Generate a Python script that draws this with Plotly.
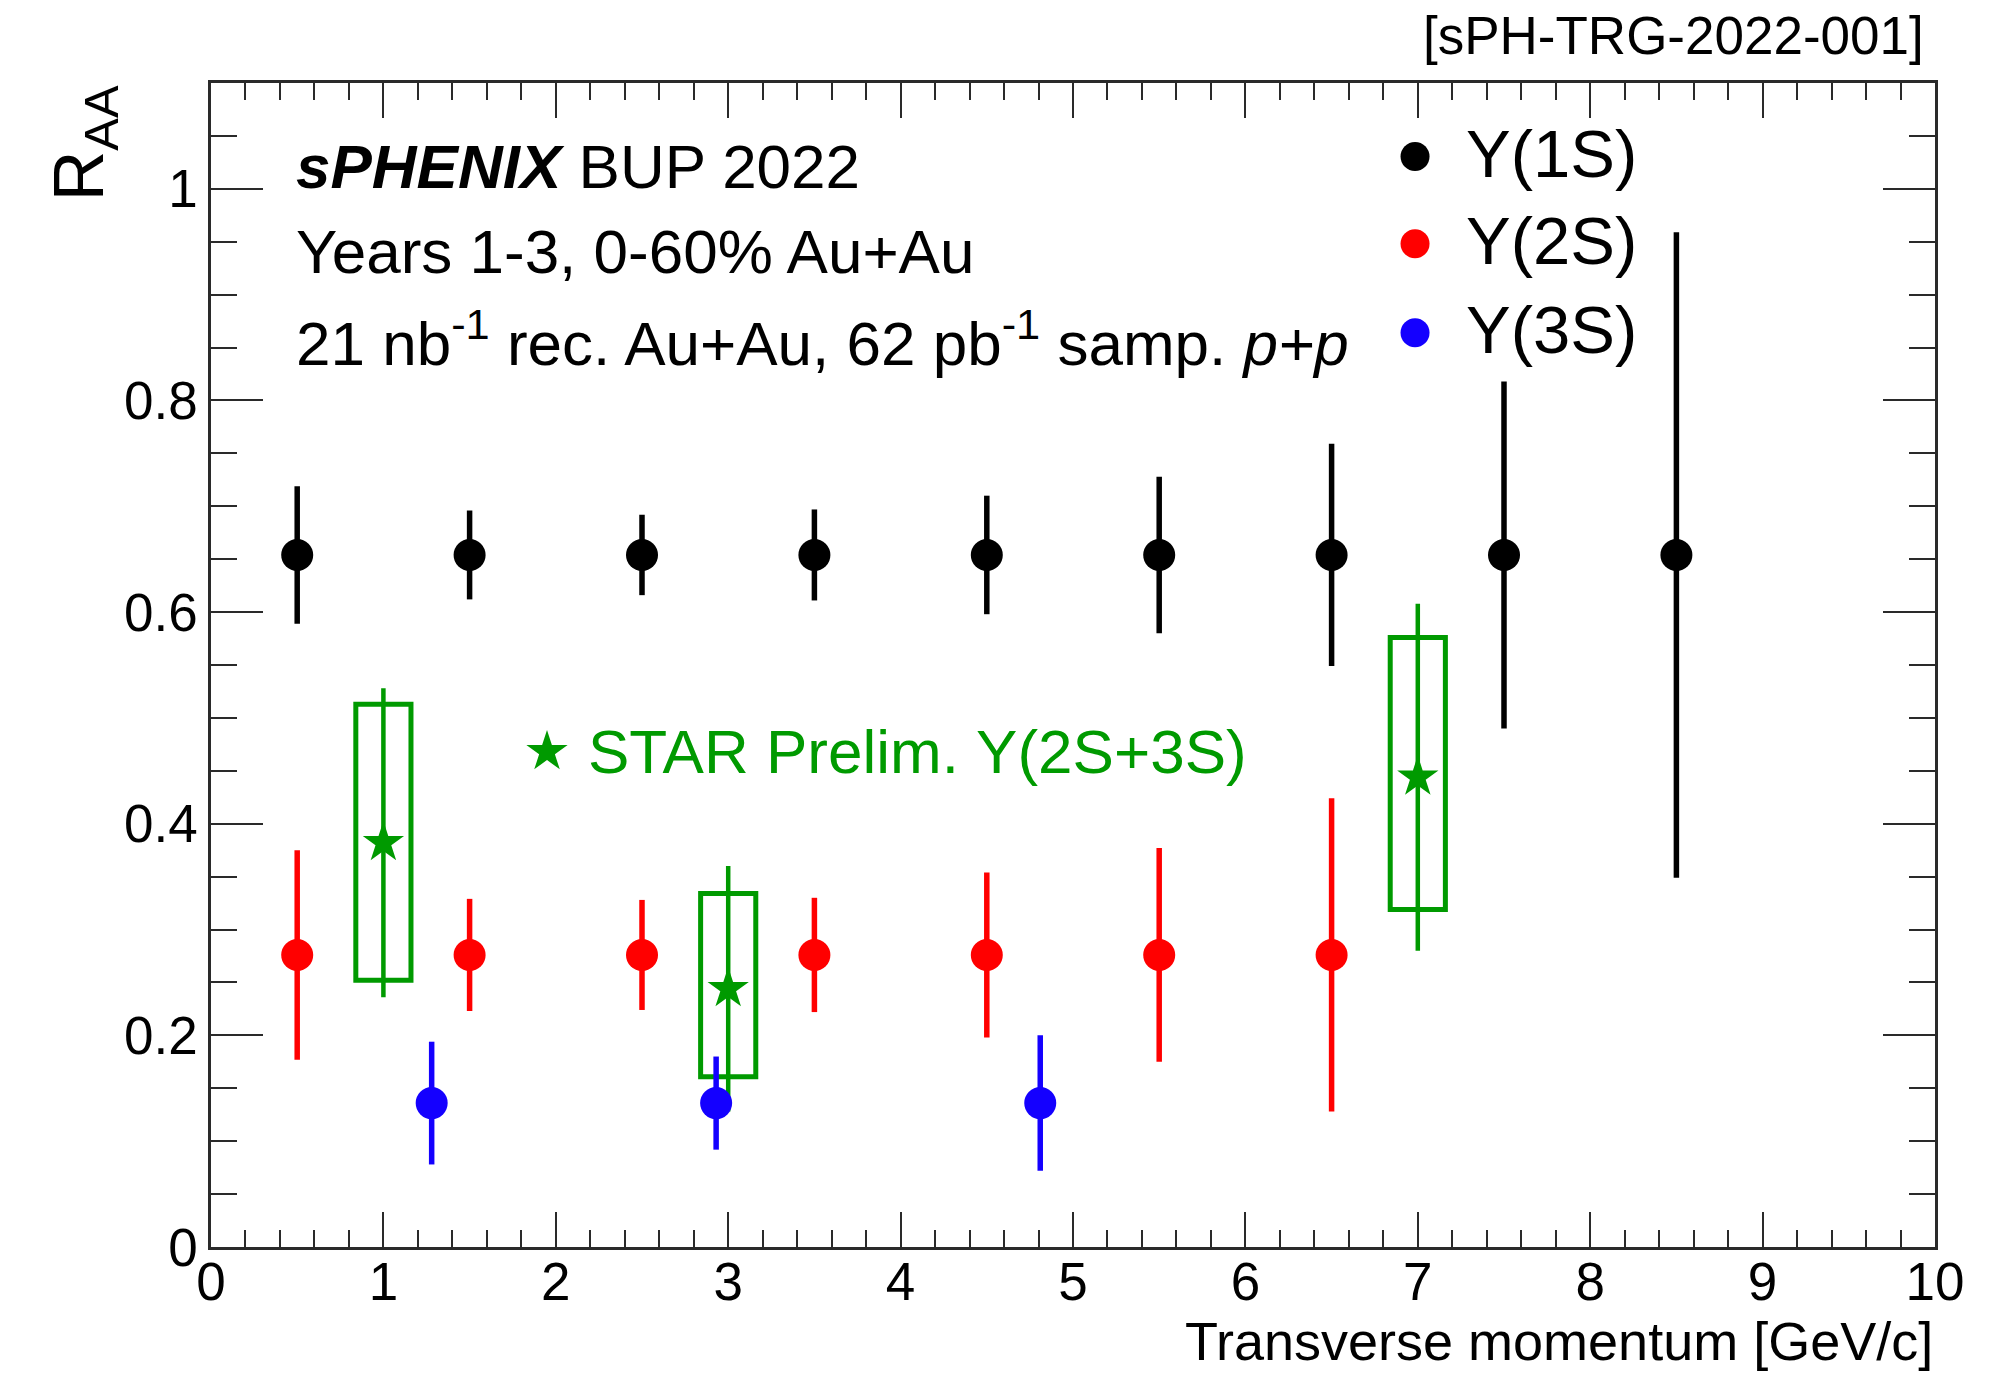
import plotly.graph_objects as go

# ---- sPHENIX projected Upsilon R_AA vs transverse momentum ----
pt_1s = [0.5, 1.5, 2.5, 3.5, 4.5, 5.5, 6.5, 7.5, 8.5]
raa_1s = [0.654, 0.654, 0.654, 0.654, 0.654, 0.654, 0.654, 0.654, 0.654]
err_1s = [0.065, 0.042, 0.038, 0.043, 0.056, 0.074, 0.105, 0.164, 0.305]

pt_2s = [0.5, 1.5, 2.5, 3.5, 4.5, 5.5, 6.5]
raa_2s = [0.276, 0.276, 0.276, 0.276, 0.276, 0.276, 0.276]
err_2s = [0.099, 0.053, 0.052, 0.054, 0.078, 0.101, 0.148]

pt_3s = [1.28, 2.93, 4.81]
raa_3s = [0.136, 0.136, 0.136]
err_3s = [0.058, 0.044, 0.064]

# STAR preliminary Upsilon(2S+3S): stat. error bars + sys. boxes
pt_star = [1.0, 3.0, 7.0]
raa_star = [0.382, 0.244, 0.444]
stat_star = [0.146, 0.116, 0.164]
sys_up_star = [0.131, 0.090, 0.132]
sys_dn_star = [0.130, 0.083, 0.125]
box_halfwidth = 0.16

series_names = ["Υ(1S)", "Υ(2S)", "Υ(3S)"]
series_colors = ["#000000", "#ff0000", "#1400ff"]
star_color = "#009a00"

x_ticks = [0, 1, 2, 3, 4, 5, 6, 7, 8, 9, 10]
y_ticks = [0, 0.2, 0.4, 0.6, 0.8, 1.0]
y_ticktext = ["0", "0.2", "0.4", "0.6", "0.8", "1"]

FONT = "Liberation Sans, Arial, Helvetica, sans-serif"
AXIS_COLOR = "#2a2a2a"

fig = go.Figure()

# systematic boxes for STAR points
for x, y, su, sd in zip(pt_star, raa_star, sys_up_star, sys_dn_star):
    fig.add_shape(type="rect", xref="x", yref="y",
                  x0=x - box_halfwidth, x1=x + box_halfwidth,
                  y0=y - sd, y1=y + su,
                  line=dict(color=star_color, width=5), layer="below")

fig.add_trace(go.Scatter(
    x=pt_star, y=raa_star, mode="markers", showlegend=False,
    marker=dict(symbol="star", size=31, color=star_color, line=dict(width=0)),
    error_y=dict(type="data", array=stat_star, visible=True, color=star_color,
                 thickness=4.5, width=0),
))

for xs, ys, es, col, name in zip([pt_1s, pt_2s, pt_3s], [raa_1s, raa_2s, raa_3s],
                                 [err_1s, err_2s, err_3s], series_colors, series_names):
    fig.add_trace(go.Scatter(
        x=xs, y=ys, mode="markers", name=name, showlegend=False,
        marker=dict(symbol="circle", size=32, color=col, line=dict(width=0)),
        error_y=dict(type="data", array=es, visible=True, color=col,
                     thickness=5.5, width=0),
    ))

# legend entries (marker + label) in the upper right
legend_x = 6.984
legend_y = [1.0305, 0.948, 0.864]
for ly, col, name in zip(legend_y, series_colors, series_names):
    fig.add_trace(go.Scatter(
        x=[legend_x], y=[ly], mode="markers", showlegend=False, hoverinfo="skip",
        marker=dict(symbol="circle", size=29, color=col, line=dict(width=0)),
    ))
    fig.add_annotation(x=7.27, y=ly + 0.003, xref="x", yref="y", text=name,
                       showarrow=False, xanchor="left", yanchor="middle",
                       font=dict(family=FONT, size=67, color="black"))

# STAR label with its marker
star_label_y = 0.468
fig.add_trace(go.Scatter(
    x=[1.949], y=[star_label_y], mode="markers", showlegend=False, hoverinfo="skip",
    marker=dict(symbol="star", size=31, color=star_color, line=dict(width=0)),
))
fig.add_annotation(x=2.175, y=star_label_y, xref="x", yref="y",
                   text="STAR Prelim. Υ(2S+3S)", showarrow=False,
                   xanchor="left", yanchor="middle",
                   font=dict(family=FONT, size=62, color=star_color))

# header text block
header_lines = [
    "<b><i>sPHENIX</i></b> BUP 2022",
    "Years 1-3, 0-60% Au+Au",
    "21 nb<sup>-1</sup> rec. Au+Au, 62 pb<sup>-1</sup> samp. <i>p+p</i>",
]
header_y = [1.021, 0.941, 0.858]
for txt, hy in zip(header_lines, header_y):
    fig.add_annotation(x=0.48, y=hy, xref="x", yref="y", text=txt, showarrow=False,
                       xanchor="left", yanchor="middle",
                       font=dict(family=FONT, size=62, color="black"))

# document tag
fig.add_annotation(x=0.9945, y=1.041, xref="paper", yref="paper",
                   text="[sPH-TRG-2022-001]", showarrow=False,
                   xanchor="right", yanchor="middle",
                   font=dict(family=FONT, size=53, color="black"))

# axis titles
fig.add_annotation(x=1.0, y=-0.0808, xref="paper", yref="paper",
                   text="Transverse momentum [GeV/c]", showarrow=False,
                   xanchor="right", yanchor="middle",
                   font=dict(family=FONT, size=54, color="black"))
fig.add_annotation(x=-0.0735, y=1.0, xref="paper", yref="paper",
                   text="R<sub>AA</sub>", showarrow=False, textangle=-90,
                   xanchor="center", yanchor="top",
                   font=dict(family=FONT, size=70, color="black"))

fig.update_xaxes(
    range=[0, 10], tickmode="array", tickvals=x_ticks,
    ticks="inside", ticklen=35, tickwidth=2, tickcolor=AXIS_COLOR,
    showline=True, linewidth=2.5, linecolor=AXIS_COLOR, mirror="ticks",
    showgrid=False, zeroline=False, ticklabelstandoff=-13,
    tickfont=dict(family=FONT, size=53, color="black"),
    minor=dict(ticks="inside", dtick=0.2, tick0=0, ticklen=17, tickwidth=2,
               tickcolor=AXIS_COLOR, showgrid=False),
)
fig.update_yaxes(
    range=[0, 1.1], tickmode="array", tickvals=y_ticks, ticktext=y_ticktext,
    ticks="inside", ticklen=52, tickwidth=2, tickcolor=AXIS_COLOR,
    showline=True, linewidth=2.5, linecolor=AXIS_COLOR, mirror="ticks",
    showgrid=False, zeroline=False,
    tickfont=dict(family=FONT, size=53, color="black"),
    minor=dict(ticks="inside", dtick=0.05, tick0=0, ticklen=26, tickwidth=2,
               tickcolor=AXIS_COLOR, showgrid=False),
)

fig.update_layout(
    width=2003, height=1377,
    margin=dict(l=211, r=68, t=83, b=130, pad=0),
    paper_bgcolor="white", plot_bgcolor="white",
    showlegend=False,
)

fig.write_html("out.html")
